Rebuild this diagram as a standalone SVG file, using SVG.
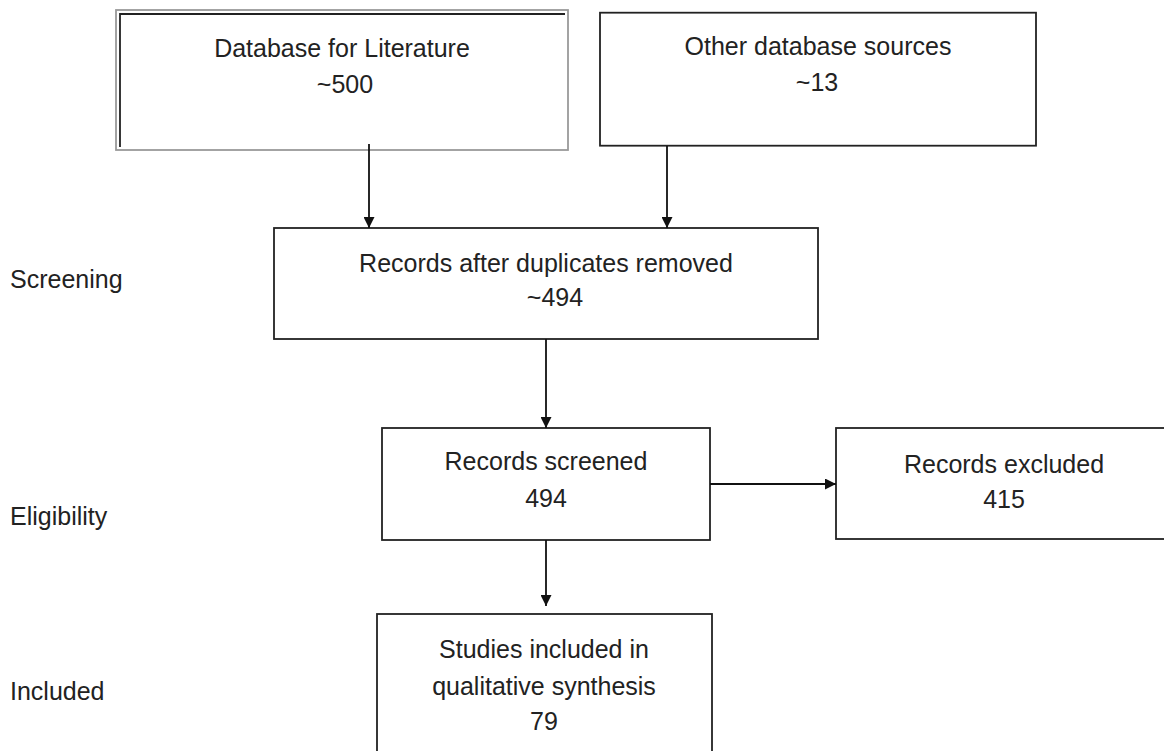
<svg xmlns="http://www.w3.org/2000/svg" width="1164" height="751" viewBox="0 0 1164 751">
<defs>
<style>
.box{fill:#fff;stroke:#222;stroke-width:1.8}
.t{font-family:"Liberation Sans",Arial,sans-serif;font-size:25px;fill:#222;text-anchor:middle}
.lbl{font-family:"Liberation Sans",Arial,sans-serif;font-size:25px;fill:#222}
.c{fill:none;stroke:#111;stroke-width:1.8}
</style>
<marker id="ah" viewBox="0 0 10 10" refX="10" refY="5" markerWidth="11" markerHeight="11" markerUnits="userSpaceOnUse" orient="auto">
<path d="M0,0 L10,5 L0,10 Z" fill="#111"/>
</marker>
</defs>
<rect width="1164" height="751" fill="#fff"/>
<g id="stage-labels">
<text class="lbl" x="10" y="288">Screening</text>
<text class="lbl" x="10" y="525">Eligibility</text>
<text class="lbl" x="10" y="700">Included</text>
</g>
<g id="node-database">
<rect x="116" y="10" width="452" height="140" fill="#fff" stroke="#9a9a9a" stroke-width="1.8"/>
<polyline points="120,147 120,14 565,14" fill="none" stroke="#222" stroke-width="1.8"/>
<text class="t" x="342" y="57">Database for Literature</text>
<text class="t" x="345" y="93">~500</text>
</g>
<g id="node-other">
<rect class="box" x="600" y="12.7" width="436" height="133"/>
<text class="t" x="818" y="55">Other database sources</text>
<text class="t" x="817" y="91">~13</text>
</g>
<g id="node-dedup">
<rect class="box" x="274" y="228" width="544" height="111"/>
<text class="t" x="546" y="272">Records after duplicates removed</text>
<text class="t" x="555" y="306">~494</text>
</g>
<g id="node-screened">
<rect class="box" x="382" y="428" width="328" height="112"/>
<text class="t" x="546" y="470">Records screened</text>
<text class="t" x="546" y="507">494</text>
</g>
<g id="node-excluded">
<rect class="box" x="836" y="428" width="340" height="111"/>
<text class="t" x="1004" y="473">Records excluded</text>
<text class="t" x="1004" y="508">415</text>
</g>
<g id="node-included">
<rect class="box" x="377" y="614" width="335" height="150"/>
<text class="t" x="544" y="658">Studies included in</text>
<text class="t" x="544" y="695">qualitative synthesis</text>
<text class="t" x="544" y="730">79</text>
</g>
<g id="connectors">
<line class="c" x1="369" y1="144" x2="369" y2="228" marker-end="url(#ah)"/>
<line class="c" x1="667" y1="146" x2="667" y2="228" marker-end="url(#ah)"/>
<line class="c" x1="546" y1="339" x2="546" y2="428" marker-end="url(#ah)"/>
<line class="c" x1="546" y1="540" x2="546" y2="606" marker-end="url(#ah)"/>
<line class="c" x1="710" y1="484" x2="836" y2="484" marker-end="url(#ah)"/>
</g>
</svg>
